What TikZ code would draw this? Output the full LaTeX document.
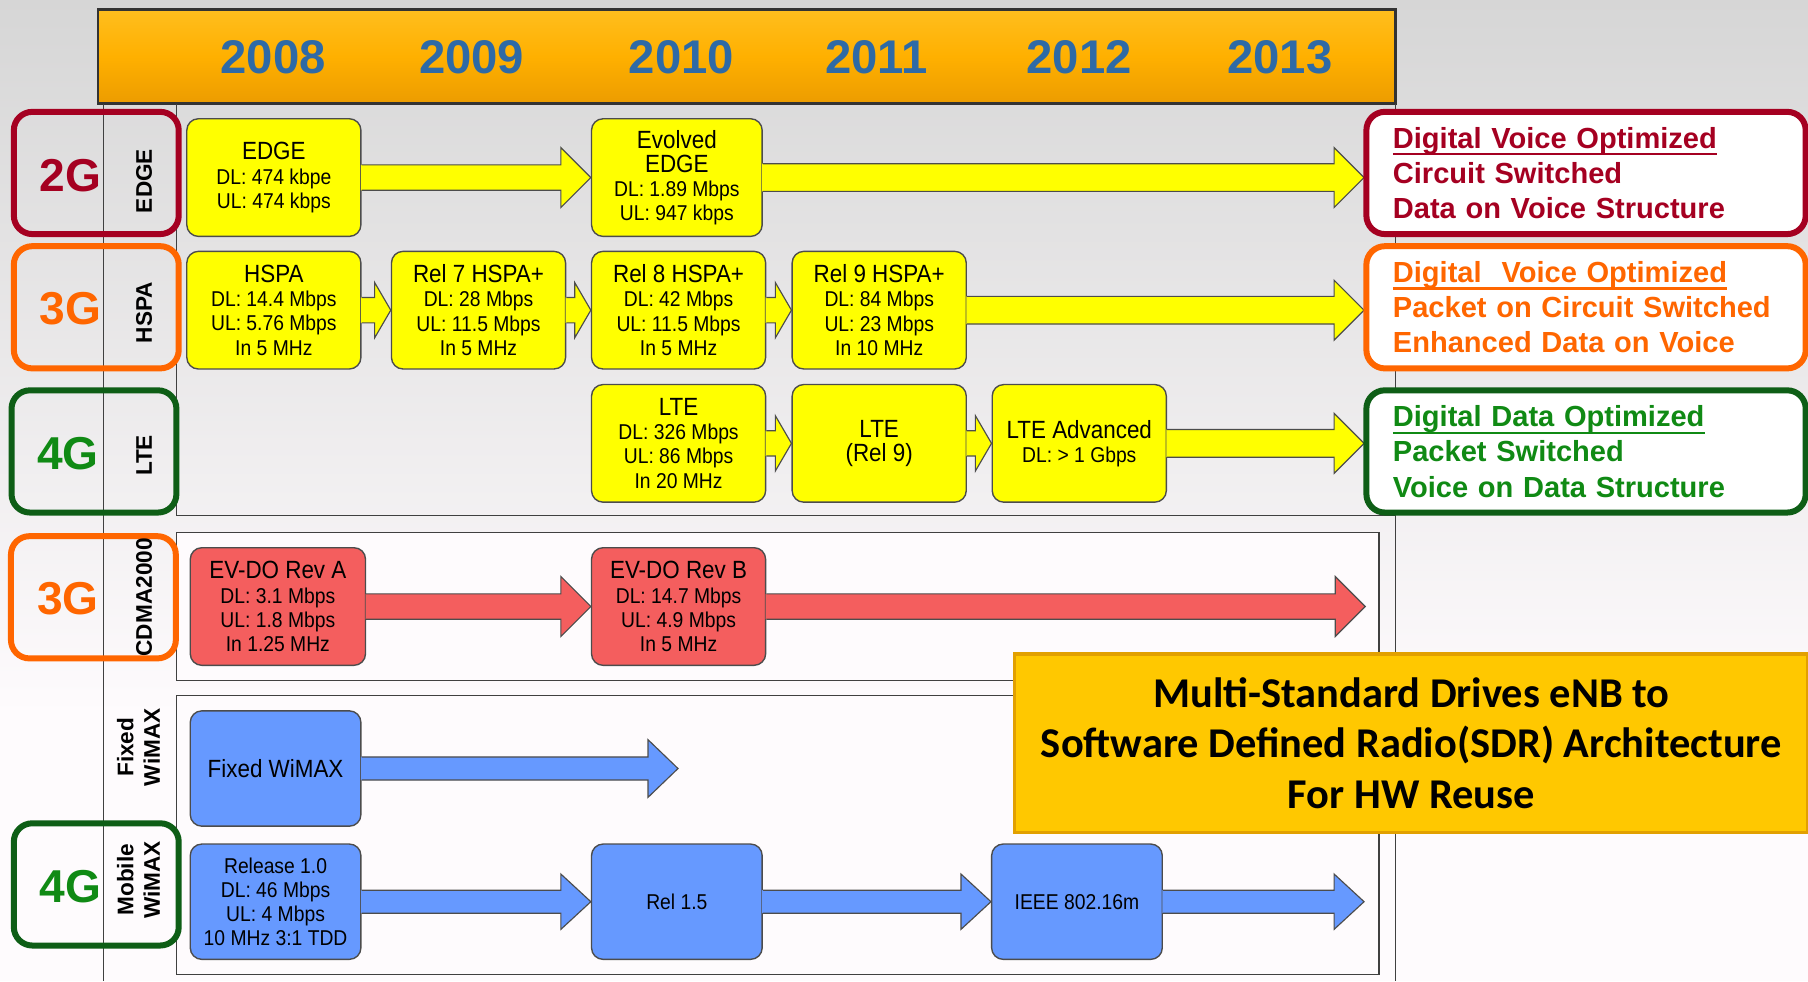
\documentclass[tikz,border=0pt]{standalone}
\usepackage{fontspec}
\setmainfont{Liberation Sans}
\newfontfamily\calibfont{Carlito}
\newfontfamily\narrowfont[FakeStretch=0.9]{Liberation Sans}
\usetikzlibrary{calc}

\definecolor{bggray}{RGB}{214,214,214}
\definecolor{banner}{RGB}{255,176,0}
\definecolor{bannertop}{RGB}{255,190,30}
\definecolor{bannerbot}{RGB}{236,156,0}
\definecolor{yearblue}{RGB}{46,106,166}
\definecolor{twog}{RGB}{165,0,33}
\definecolor{threeg}{RGB}{255,102,0}
\definecolor{fourg}{RGB}{16,138,20}
\definecolor{fourgedge}{RGB}{14,94,22}
\definecolor{yfill}{RGB}{255,255,0}
\definecolor{rfill}{RGB}{244,94,94}
\definecolor{bfill}{RGB}{102,153,255}
\definecolor{panelwhite}{RGB}{254,251,253}
\definecolor{calloutfill}{RGB}{255,200,0}
\definecolor{calloutedge}{RGB}{226,160,0}

% underline with a rule set a little below the baseline
\newcommand\ulbar[1]{\leavevmode\setbox0\hbox{#1}%
  \rlap{\vrule height -2.2pt depth 3.2pt width \wd0}\box0}

\newcommand\hdsize{\fontsize{10.8}{10.5}\selectfont}
\newcommand\bodysize{\narrowfont\fontsize{9.3}{10.5}\selectfont}

% block arrow from the east side of a node to a target point
\newcommand\blockarrow[6]{%
  \fill[#3] let \p1=(#1.east), \p2=(#2) in
    (\x1-0.3pt,\y1+#4) -- (\x2-#6,\y1+#4) -- (\x2-#6,\y1+#5) -- (\x2,\y1)
    -- (\x2-#6,\y1-#5) -- (\x2-#6,\y1-#4) -- (\x1-0.3pt,\y1-#4) -- cycle;
  \draw[black!70, line width=0.5pt, line join=miter] let \p1=(#1.east), \p2=(#2) in
    (\x1,\y1+#4) -- (\x2-#6,\y1+#4) -- (\x2-#6,\y1+#5) -- (\x2,\y1)
    -- (\x2-#6,\y1-#5) -- (\x2-#6,\y1-#4) -- (\x1,\y1-#4);
}

\tikzset{
  stdbox/.style={rounded corners=5pt, draw=black!70, line width=0.6pt,
    minimum width=75.5pt, minimum height=51pt, inner sep=0pt, align=center,
    font=\bodysize},
  ybox/.style={stdbox, fill=yfill},
  rbox/.style={stdbox, fill=rfill},
  bbox/.style={stdbox, fill=bfill, minimum width=74pt, minimum height=50pt},
  year/.style={font=\bfseries\fontsize{20.5}{24}\selectfont, text=yearblue},
  genbox/.style={rounded corners=8pt, line width=2.6pt, minimum width=71.5pt,
    minimum height=53pt, inner sep=0pt},
  genlbl/.style={font=\bfseries\fontsize{20}{24}\selectfont},
  techlbl/.style={rotate=90, font=\bfseries\fontsize{9.8}{11.5}\selectfont,
    align=center, inner sep=0pt},
  notebox/.style={rounded corners=8pt, line width=2.6pt, fill=white,
    minimum width=190.5pt, minimum height=53pt, inner xsep=11.5pt, inner ysep=0pt,
    text width=167.5pt, align=left,
    font=\bfseries\fontsize{12.6}{15.3}\selectfont},
  edgeline/.style={draw=black!75, line width=0.6pt},
}

\begin{document}
\begin{tikzpicture}[x=0.5pt,y=-0.5pt]
\useasboundingbox (0,0) rectangle (1568,851);

% backdrop
\shade[top color=bggray, bottom color=panelwhite] (0,0) rectangle (1568,620);
\fill[panelwhite] (0,619) rectangle (1568,851);

% year banner
\shade[top color=bannertop, bottom color=bannerbot, middle color=banner]
  (85,8) rectangle (1210,90);
\draw[black!80, line width=1.2pt] (85,8) rectangle (1210,90);
\node[year] (y2008) at (237,50) {2008};
\node[year] (y2009) at (409,50) {2009};
\node[year] (y2010) at (591,50) {2010};
\node[year] (y2011) at (760,50) {2011};
\node[year] (y2012) at (936,50) {2012};
\node[year] (y2013) at (1110,50) {2013};

% frame lines and panels
\draw[edgeline] (90,90) -- (90,851);
\draw[edgeline] (153,90) -- (153,447) -- (1210,447);
\draw[edgeline] (1210,90) -- (1210,851);
\filldraw[fill=panelwhite, edgeline] (153,462) rectangle (1196,590);
\filldraw[fill=panelwhite, edgeline] (153,603) rectangle (1196,845);

% generation boxes
\node[genbox, draw=twog] (gen2) at (83.5,150) {};
\node[genbox, draw=threeg] (gen3a) at (83.5,266.5) {};
\node[genbox, draw=fourgedge] (gen4a) at (81.5,391.5) {};
\node[genbox, draw=threeg] (gen3b) at (81,518) {};
\node[genbox, draw=fourgedge] (gen4b) at (83.5,767) {};
\node[genlbl, text=twog] (gen2lbl) at (61,152) {2G};
\node[genlbl, text=threeg] (gen3albl) at (61,268) {3G};
\node[genlbl, text=fourg] (gen4albl) at (59,393) {4G};
\node[genlbl, text=threeg] (gen3blbl) at (59,519) {3G};
\node[genlbl, text=fourg] (gen4blbl) at (61,769) {4G};

% technology labels
\node[techlbl] (tEdge) at (125,157) {EDGE};
\node[techlbl] (tHspa) at (125,271) {HSPA};
\node[techlbl] (tLte) at (125,395) {LTE};
\node[techlbl] (tCdma) at (125,518) {CDMA2000};
\node[techlbl] (tFixed) at (120,648) {Fixed\\WiMAX};
\node[techlbl] (tMobile) at (120,763) {Mobile\\WiMAX};

% EDGE row
\node[ybox] (edge) at (237.5,154) {{\hdsize EDGE}\\DL: 474 kbpe\\UL: 474 kbps};
\node[ybox, minimum width=74pt] (evedge) at (587,154)
  {{\hdsize Evolved}\\{\hdsize EDGE}\\DL: 1.89 Mbps\\UL: 947 kbps};
\coordinate (edgeend) at (1183,154);

% HSPA row
\node[ybox] (hspa) at (237.5,269) {{\hdsize HSPA}\\DL: 14.4 Mbps\\UL: 5.76 Mbps\\In 5 MHz};
\node[ybox] (rel7) at (415,269) {{\hdsize Rel 7 HSPA+}\\DL: 28 Mbps\\UL: 11.5 Mbps\\In 5 MHz};
\node[ybox] (rel8) at (588.5,269) {{\hdsize Rel 8 HSPA+}\\DL: 42 Mbps\\UL: 11.5 Mbps\\In 5 MHz};
\node[ybox] (rel9) at (762.5,269) {{\hdsize Rel 9 HSPA+}\\DL: 84 Mbps\\UL: 23 Mbps\\In 10 MHz};
\coordinate (hspaend) at (1183,269);

% LTE row
\node[ybox] (lte) at (588.5,384.5) {{\hdsize LTE}\\DL: 326 Mbps\\UL: 86 Mbps\\In 20 MHz};
\node[ybox] (lte9) at (762.5,384.5) {{\hdsize LTE}\\{\hdsize (Rel 9)}};
\node[ybox] (lteadv) at (936,384.5) {{\hdsize LTE Advanced}\\DL: > 1 Gbps};
\coordinate (lteend) at (1183,384.5);

% CDMA2000 row
\node[rbox, minimum width=76pt] (revA) at (241,526)
  {{\hdsize EV-DO Rev A}\\DL: 3.1 Mbps\\UL: 1.8 Mbps\\In 1.25 MHz};
\node[rbox] (revB) at (588.5,526) {{\hdsize EV-DO Rev B}\\DL: 14.7 Mbps\\UL: 4.9 Mbps\\In 5 MHz};
\coordinate (cdmaend) at (1184,526);

% WiMAX rows
\node[bbox] (fixed) at (239,666.5) {{\hdsize Fixed WiMAX}};
\coordinate (fixedend) at (588,666.5);
\node[bbox] (mob10) at (239,782) {Release 1.0\\DL: 46 Mbps\\UL: 4 Mbps\\10 MHz 3:1 TDD};
\node[bbox] (mob15) at (587,782) {Rel 1.5};
\node[bbox] (mob16m) at (934,782) {IEEE 802.16m};
\coordinate (mobend) at (1183,782);

% progression arrows
\blockarrow{edge}{evedge.west}{yfill}{5.5pt}{13pt}{13pt}
\blockarrow{evedge}{edgeend}{yfill}{6pt}{13pt}{13pt}
\blockarrow{hspa}{rel7.west}{yfill}{5.5pt}{12pt}{7pt}
\blockarrow{rel7}{rel8.west}{yfill}{5.5pt}{12pt}{7pt}
\blockarrow{rel8}{rel9.west}{yfill}{5.5pt}{12pt}{7pt}
\blockarrow{rel9}{hspaend}{yfill}{6pt}{13pt}{13pt}
\blockarrow{lte}{lte9.west}{yfill}{5.5pt}{12pt}{7pt}
\blockarrow{lte9}{lteadv.west}{yfill}{5.5pt}{12pt}{7pt}
\blockarrow{lteadv}{lteend}{yfill}{6pt}{13pt}{13pt}
\blockarrow{revA}{revB.west}{rfill}{5.5pt}{13pt}{13pt}
\blockarrow{revB}{cdmaend}{rfill}{5.5pt}{13pt}{13pt}
\blockarrow{fixed}{fixedend}{bfill}{5pt}{12.5pt}{13pt}
\blockarrow{mob10}{mob15.west}{bfill}{5pt}{12pt}{13pt}
\blockarrow{mob15}{mob16m.west}{bfill}{5pt}{12pt}{13pt}
\blockarrow{mob16m}{mobend}{bfill}{5pt}{12pt}{13pt}

% characteristics boxes
\node[notebox, draw=twog, text=twog] (note2g) at (1375.5,150)
  {\ulbar{Digital Voice Optimized}\\Circuit Switched\\Data on Voice Structure};
\node[notebox, draw=threeg, text=threeg] (note3g) at (1375.5,266.5)
  {\ulbar{Digital\hspace{0.35em} Voice Optimized}\\Packet on Circuit Switched\\Enhanced Data on Voice};
\node[notebox, draw=fourgedge, text=fourg] (note4g) at (1375.5,391.5)
  {\ulbar{Digital Data Optimized}\\Packet Switched\\Voice on Data Structure};

% SDR callout
\node[fill=calloutfill, draw=calloutedge, line width=1.5pt, minimum width=344pt,
  minimum height=77.5pt, inner sep=0pt, align=center,
  font=\calibfont\bfseries\fontsize{18.4}{22}\selectfont] (sdr) at (1224,644.5)
  {Multi-Standard Drives eNB to\\Software Defined Radio(SDR) Architecture\\For HW Reuse};
\end{tikzpicture}
\end{document}
